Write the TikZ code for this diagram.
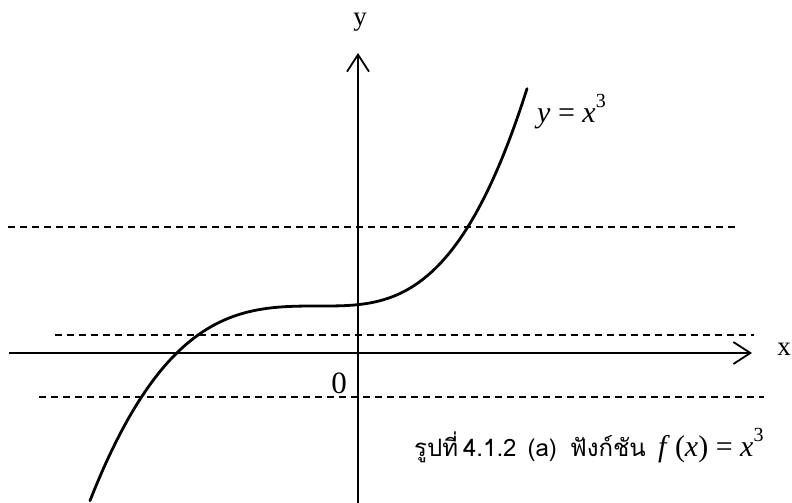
\documentclass[tikz,border=0pt]{standalone}
\usepackage{fontspec}
\setmainfont{Liberation Serif}
\newfontfamily\thaifont[Script=Thai]{Loma}
\usetikzlibrary{arrows.meta}
\newcommand{\cubesup}{\raisebox{0.5em}{\fontsize{20}{20}\selectfont 3}}
\begin{document}
\begin{tikzpicture}[x=1pt,y=-1pt,
  axisline/.style={line width=2.2pt,-{Straight Barb[length=17pt,width=22pt,line width=1.8pt]}},
  guide/.style={line width=1.3pt,dash pattern=on 7pt off 5pt},
  curveline/.style={line width=2.8pt,line cap=round,line join=round},
  axislabel/.style={font=\fontsize{27}{30}\selectfont,inner sep=0pt},
  mathlabel/.style={font=\fontsize{30}{34}\selectfont,inner sep=0pt,anchor=base west},
  thailabel/.style={font=\thaifont\fontsize{24}{28}\selectfont,inner sep=0pt,anchor=base west}]
\useasboundingbox (0,0) rectangle (792,503);
% axis end points
\coordinate (xs) at (9,353);
\coordinate (xe) at (752,353);
\coordinate (ys) at (358,503);
\coordinate (ye) at (358,53);
% dashed guide ends
\coordinate (g1a) at (8,227);   \coordinate (g1b) at (736,227);
\coordinate (g2a) at (55,335);  \coordinate (g2b) at (754,335);
\coordinate (g3a) at (39,397);  \coordinate (g3b) at (764,397);
\draw[guide] (g1a) -- (g1b);
\draw[guide] (g2a) -- (g2b);
\draw[guide] (g3a) -- (g3b);
\draw[axisline] (xs) -- (xe);
\draw[axisline] (ys) -- (ye);
% curve: shifted cubic, steeper on the right
\draw[curveline] plot[domain=90:320,samples=60,smooth] (\x,{306+16*((320-\x)/100)^3})
  -- plot[domain=320:527,samples=60,smooth] (\x,{306-24.5*((\x-320)/100)^3});
% labels
\node[axislabel] (ylab) at (360,22) {y};
\node[axislabel] (xlab) at (784,349) {x};
\node[axislabel,font=\fontsize{31}{34}\selectfont] (zero) at (339,383) {0};
\node[mathlabel] (eq) at (537,122) {\textit{y} = \textit{x}\cubesup};
\node[thailabel] (cap) at (414,456) {รูปที่\hspace{5pt}4.1.2\hspace{11pt}(a)\hspace{13pt}ฟังก์ชัน};
\node[mathlabel] (fx) at (658,456) {\textit{f}\,(\textit{x}) = \textit{x}\cubesup};
\end{tikzpicture}
\end{document}
